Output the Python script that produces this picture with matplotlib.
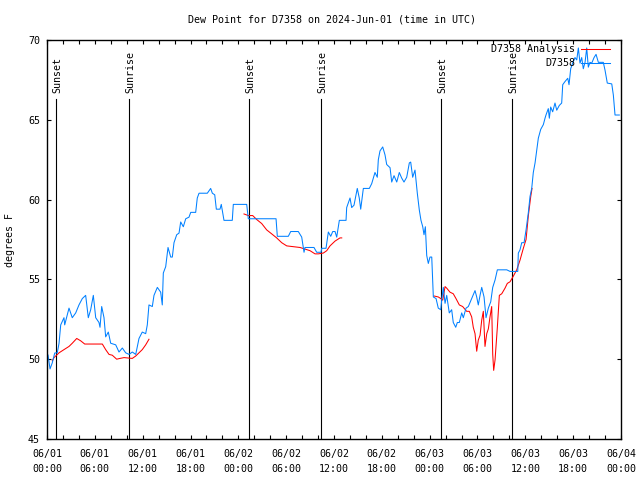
import numpy as np
import matplotlib
matplotlib.use('Agg')
import matplotlib.pyplot as plt
from matplotlib.ticker import MultipleLocator

plt.rcParams['font.family'] = 'DejaVu Sans Mono'
plt.rcParams['font.size'] = 7.2

# hours since 2024-06-01 00:00 UTC, dew point in F
obs_hours = [0.13, 0.38, 0.66, 0.97, 1.29, 1.51, 1.72, 2.13, 2.22, 2.76, 3.17, 3.60, 4.01, 4.43, 4.85,
             5.18, 5.48, 5.81, 6.11, 6.52, 6.65, 6.86, 7.15, 7.36, 7.69, 7.99, 8.62, 9.03, 9.45, 9.87,
             10.29, 10.70, 11.13, 11.54, 11.95, 12.38, 12.58, 12.79, 13.21, 13.42, 13.84, 14.26, 14.46,
             14.59, 14.89, 15.18, 15.52, 15.72, 15.93, 16.27, 16.56, 16.77, 17.10, 17.40, 17.81, 18.03,
             18.65, 18.85, 19.07, 20.11, 20.53, 20.74, 21.04, 21.24, 21.70, 21.86, 22.20, 23.24, 23.37,
             24.71, 25.05, 25.25, 28.73, 28.89, 30.27, 30.57, 31.52, 31.95, 32.24, 32.36, 33.49, 33.83,
             34.37, 34.46, 35.00, 35.29, 35.59, 35.84, 36.13, 36.34, 36.67, 37.51, 37.59, 38.01, 38.22,
             38.51, 38.92, 39.17, 39.35, 39.68, 40.43, 40.73, 41.14, 41.43, 41.56, 41.77, 42.11, 42.40,
             42.61, 43.03, 43.24, 43.53, 43.87, 44.19, 44.49, 44.78, 45.12, 45.45, 45.62, 45.87, 46.16,
             46.45, 46.70, 46.91, 47.13, 47.29, 47.46, 47.63, 47.83, 48.04, 48.26, 48.46, 48.80, 49.08,
             49.39, 49.51, 49.71, 49.93, 50.14, 50.46, 50.76, 50.96, 51.27, 51.47, 51.72, 52.02, 52.22,
             52.56, 52.85, 53.27, 53.69, 53.90, 54.10, 54.32, 54.53, 54.82, 55.07, 55.36, 55.66, 55.91,
             56.20, 56.49, 57.67, 58.08, 59.05, 59.12, 59.33, 59.55, 59.84, 60.09, 60.38, 60.59, 60.80,
             61.00, 61.22, 61.43, 61.63, 61.93, 62.26, 62.47, 62.59, 62.88, 63.01, 63.18, 63.43, 63.72,
             63.94, 64.26, 64.56, 64.69, 64.98, 65.32, 65.48, 65.69, 65.94, 66.23, 66.45, 66.65, 66.86,
             67.07, 67.27, 67.49, 67.70, 67.90, 68.11, 68.33, 68.62, 68.87, 69.16, 69.78, 70.00, 70.28,
             70.84, 71.04, 71.25, 71.79]
obs_dewp = [50.26, 49.39, 49.77, 50.39, 50.4, 51.0, 52.15, 52.6, 52.15, 53.2, 52.6, 52.9, 53.4, 53.8, 54.0,
            52.6, 53.1, 54.0, 52.6, 52.3, 52.0, 53.3, 52.6, 51.4, 51.7, 51.0, 50.9, 50.45, 50.7, 50.4,
            50.3, 50.45, 50.3, 51.3, 51.7, 51.6, 52.15, 53.4, 53.3, 54.0, 54.5, 54.2, 53.4,
            55.4, 55.8, 57.0, 56.4, 56.4, 57.3, 57.8, 57.9, 58.6, 58.3, 58.8, 58.9, 59.2,
            59.2, 60.1, 60.4, 60.4, 60.7, 60.4, 60.3, 59.4, 59.4, 59.7, 58.7, 58.7, 59.7,
            59.7, 59.7, 58.8, 58.8, 57.7, 57.7, 58.0, 58.0, 57.65, 56.7, 57.0, 57.0, 56.7,
            56.7, 56.95, 56.95, 57.97, 57.7, 58.0, 58.0, 57.65, 58.7, 58.7, 59.5, 60.1, 59.5,
            59.65, 60.7, 60.1, 59.4, 60.7, 60.7, 61.0, 61.7, 61.4, 62.5, 63.05, 63.3, 62.8,
            62.2, 62.0, 61.1, 61.5, 61.1, 61.7, 61.35, 61.1, 61.4, 62.3, 62.35, 61.4, 61.85,
            60.4, 59.35, 58.7, 58.3, 57.8, 58.3, 56.5, 56.0, 56.4, 56.4, 53.9, 53.8, 53.2,
            53.1, 53.7, 54.5, 53.5, 54.0, 52.9, 53.1, 52.3, 52.0, 52.3, 52.3, 52.9, 52.6,
            53.2, 53.3, 53.8, 54.3, 53.9, 53.4, 54.0, 54.5, 53.9, 52.6, 53.2, 53.6, 54.5,
            54.96, 55.6, 55.6, 55.5, 55.5, 56.65, 56.85, 57.3, 57.3, 58.1, 59.2, 60.2, 60.7,
            61.7, 62.3, 63.1, 63.85, 64.4, 64.7, 65.1, 65.3, 65.7, 65.1, 65.8, 65.5, 66.05,
            65.6, 65.9, 66.05, 67.2, 67.4, 67.6, 67.2, 68.2, 68.55, 68.9, 68.75, 69.5, 68.55,
            68.9, 68.2, 68.6, 69.5, 68.3, 68.6, 68.55, 68.9, 69.1, 68.6, 68.6, 68.1, 67.3,
            67.25, 66.55, 65.3, 65.3]

# analysis series, NaN where there is no analysis
ana_hours = [0.66, 0.88, 1.51, 2.13, 2.76, 3.17, 3.73, 4.23, 4.73, 6.94, 7.36, 7.78, 8.19, 8.74, 9.16,
             9.66, 10.70, 11.13, 11.54, 11.95, 12.38, 12.79, 18.0,
             24.71, 25.25, 25.80, 26.31, 26.93, 27.56, 28.19, 28.81, 29.44, 30.07, 30.90, 31.74, 32.36,
             32.99, 33.62, 34.03, 34.66, 35.09, 35.50, 36.13, 36.75, 36.97, 42.0,
             48.55, 49.08, 49.39, 49.64, 49.93, 50.14, 50.55, 50.96, 51.30, 51.72, 52.14, 52.64, 52.97,
             53.27, 53.47, 53.69, 53.90, 54.10, 54.32, 54.53, 54.73, 54.94, 55.16, 55.36, 55.57, 55.78,
             55.91, 56.03, 56.20, 56.49, 56.74, 57.04, 57.45, 57.74, 58.08, 58.49, 58.92, 59.33, 59.75,
             60.09, 60.38, 60.68, 60.84]
ana_dewp = [49.9, 50.1, 50.4, 50.6, 50.8, 51.0, 51.3, 51.15, 50.95, 50.95, 50.6, 50.3, 50.25, 50.0, 50.05,
            50.1, 50.05, 50.2, 50.4, 50.6, 50.9, 51.25, np.nan,
            59.1, 59.0, 59.0, 58.75, 58.5, 58.1, 57.85, 57.6, 57.3, 57.1, 57.05, 57.0, 56.9,
            56.8, 56.6, 56.6, 56.65, 56.8, 57.1, 57.4, 57.6, 57.6, np.nan,
            53.96, 53.9, 53.8, 53.7, 54.55, 54.45, 54.2, 54.1, 53.8, 53.4, 53.3, 53.0, 53.0,
            52.65, 52.0, 51.6, 50.5, 51.2, 51.5, 52.45, 53.0, 50.8, 51.6, 51.9, 52.65, 53.3,
            50.3, 49.3, 49.95, 52.0, 54.0, 54.1, 54.45, 54.75, 54.85, 55.2, 55.6, 56.2, 56.95,
            57.5, 59.0, 60.2, 60.7]

sun_hours = [1.13, 10.29, 25.34, 34.37, 49.42, 58.33]
sun_names = ['Sunset', 'Sunrise', 'Sunset', 'Sunrise', 'Sunset', 'Sunrise']

xticks = np.arange(0, 73, 6)
xlabels = ['06/01\n00:00', '06/01\n06:00', '06/01\n12:00', '06/01\n18:00',
           '06/02\n00:00', '06/02\n06:00', '06/02\n12:00', '06/02\n18:00',
           '06/03\n00:00', '06/03\n06:00', '06/03\n12:00', '06/03\n18:00', '06/04\n00:00']

fig = plt.figure(figsize=(6.4, 4.8), dpi=100)
ax = fig.add_axes([47/640, 1-439/480, 574/640, 399/480])

for h, name in zip(sun_hours, sun_names):
    ax.plot([h, h], [45, 66.3], color='black', lw=0.8)
    ax.text(h + 0.15, 66.7, name, rotation=90, ha='center', va='bottom')

ax.plot(ana_hours, ana_dewp, color='#ff0000', lw=0.75)
ax.plot(obs_hours, obs_dewp, color='#0080ff', lw=0.75)

# legend, gnuplot style
ax.text(0.92, 0.978, 'D7358 Analysis', transform=ax.transAxes, ha='right', va='center')
ax.plot([0.93, 0.98], [0.978, 0.978], color='#ff0000', lw=0.75, transform=ax.transAxes)
ax.text(0.92, 0.942, 'D7358', transform=ax.transAxes, ha='right', va='center')
ax.plot([0.93, 0.98], [0.942, 0.942], color='#0080ff', lw=0.75, transform=ax.transAxes)

ax.set_xlim(0, 72)
ax.set_ylim(45, 70)
ax.set_xticks(xticks)
ax.set_xticklabels(xlabels, linespacing=1.6)
ax.xaxis.set_minor_locator(MultipleLocator(2))
ax.set_yticks([45, 50, 55, 60, 65, 70])
ax.tick_params(which='both', direction='in', length=3, width=0.8, top=True, right=True)
ax.tick_params(axis='x', pad=7)
ax.tick_params(axis='y', pad=5)
for s in ax.spines.values():
    s.set_linewidth(1.0)

fig.text(332/640, 1-20/480, 'Dew Point for D7358 on 2024-Jun-01 (time in UTC)', ha='center', va='center')
fig.text(10/640, 0.5, 'degrees F', rotation=90, ha='center', va='center')

fig.savefig('out.png', dpi=100)
